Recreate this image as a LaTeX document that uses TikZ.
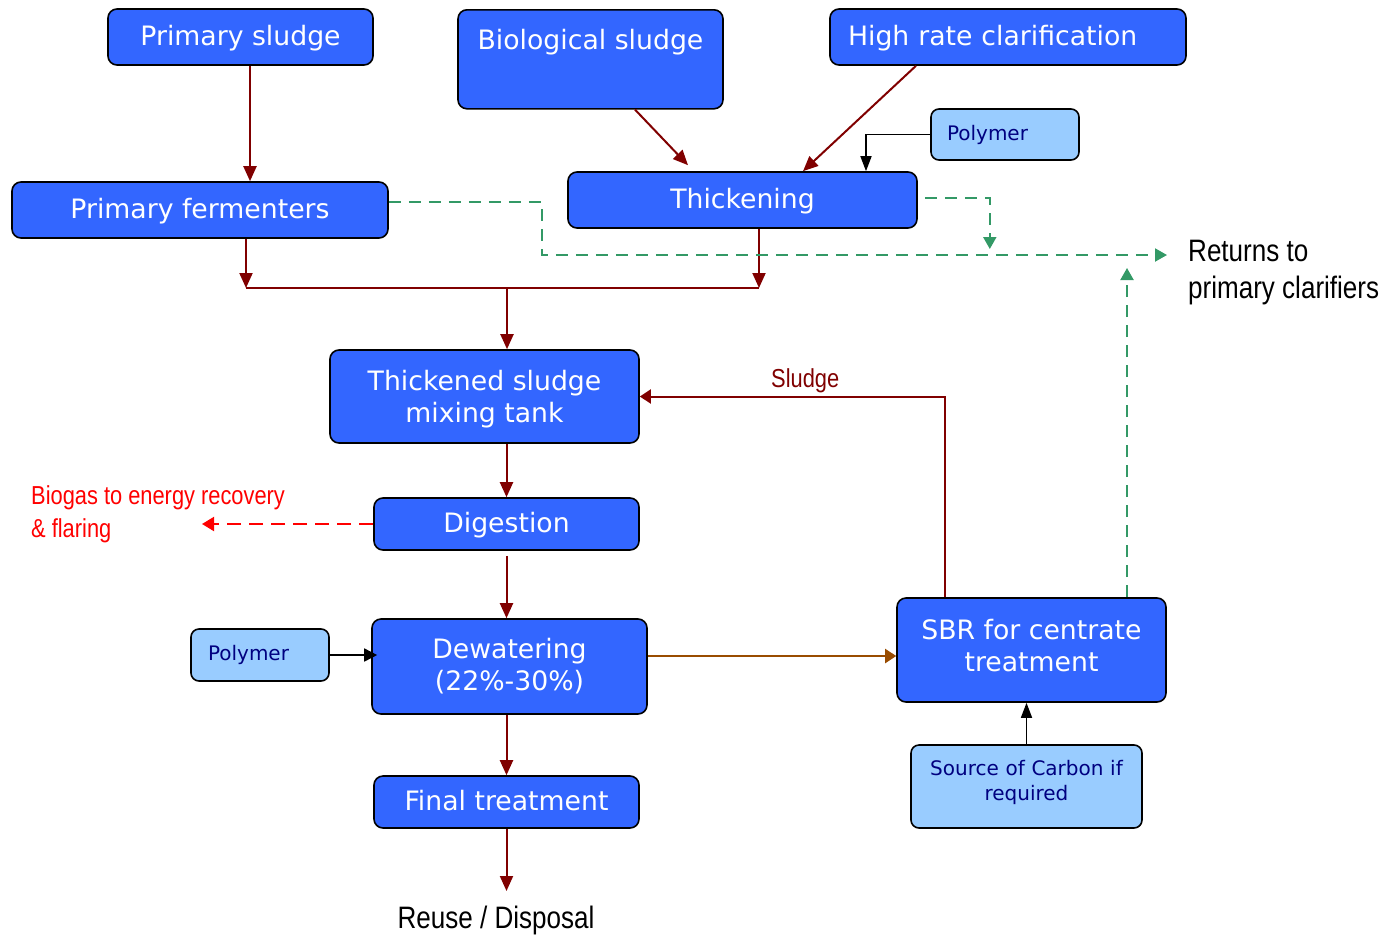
\documentclass[tikz,border=0pt]{standalone}
\usepackage{fontspec}
\setmainfont{DejaVu Sans}
\newfontfamily\narrowfont[FakeStretch=0.84]{Liberation Sans}
\usetikzlibrary{arrows.meta,positioning}
\definecolor{tankblue}{RGB}{51,102,255}
\definecolor{dosefill}{RGB}{153,204,255}
\definecolor{dosetext}{RGB}{0,0,128}
\definecolor{sludgered}{RGB}{128,0,0}
\definecolor{returngreen}{RGB}{51,153,102}
\definecolor{centratebrown}{RGB}{153,76,0}
\tikzstyle{tank} = [rectangle,rounded corners=9pt,draw=black,line width=1.6pt,fill=tankblue,text=white,inner sep=0pt,align=center,font=\fontsize{26.7}{32}\selectfont]
\tikzstyle{oneline} = [text height=21pt,text depth=4pt]
\tikzstyle{dose} = [rectangle,rounded corners=8pt,draw=black,line width=1.6pt,fill=dosefill,text=dosetext,inner ysep=0pt,align=left,font=\fontsize{20}{25}\selectfont]
\tikzstyle{note} = [inner sep=0pt,align=left,font=\narrowfont\fontsize{31}{37}\selectfont]
\tikzstyle{flow} = [->,draw=sludgered,line width=2pt]
\tikzstyle{back} = [-{Triangle[length=12pt,width=13pt]},draw=returngreen,line width=2pt,dash pattern=on 12pt off 8pt]
\tikzstyle{gas} = [-{Triangle[length=12pt,width=14pt]},draw=red,line width=2pt,dash pattern=on 14pt off 8pt]

\begin{document}
\begin{tikzpicture}[x=1pt,y=-1pt,>={Triangle[length=15pt,width=13pt]}]
	\useasboundingbox (0,0) rectangle (1391,937);
	\node[tank,oneline,minimum width=265pt,minimum height=56pt] (psl) at (240.5,37) {Primary sludge};
	\node[tank,minimum width=265pt,text height=39.5pt,text depth=59.5pt,anchor=north] (bsl) at (590.5,9) {Biological sludge};
	\node[tank,oneline,minimum height=56pt,text width=320pt,inner xsep=18pt,align=left] (hrc) at (1008,37) {High rate clarification};
	\node[dose,minimum height=51pt,text width=116pt,inner xsep=16pt] (pol1) at (1005,134.5) {Polymer};
	\node[tank,oneline,minimum width=376pt,minimum height=56pt] (pfe) at (200,210) {Primary fermenters};
	\node[tank,oneline,minimum width=349pt,minimum height=56pt] (thk) at (742.5,200) {Thickening};
	\node[tank,minimum width=309pt,minimum height=93pt] (mix) at (484.5,396.5) {\rule{0pt}{26pt}Thickened sludge\\mixing tank};
	\node[tank,oneline,minimum width=265pt,minimum height=52pt] (dig) at (506.5,524) {Digestion};
	\node[tank,minimum width=275pt,minimum height=95pt] (dew) at (509.5,666.5) {Dewatering\\(22\%-30\%)};
	\node[dose,minimum height=52pt,text width=104pt,inner xsep=17pt] (pol2) at (260,655) {Polymer};
	\node[tank,oneline,minimum width=265pt,minimum height=52pt] (fin) at (506.5,802) {Final treatment};
	\node[tank,minimum width=269pt,minimum height=104pt] (sbr) at (1031.5,650) {SBR for centrate\\treatment\rule[-10pt]{0pt}{10pt}};
	\node[dose,minimum height=83pt,text width=200pt,inner xsep=15.5pt,align=center] (crb) at (1026.5,786.5) {Source of Carbon if\\required\rule[-12pt]{0pt}{12pt}};

	\node[note,anchor=west] (ret) at (1188,273) {Returns to\\primary clarifiers};
	\node[note,anchor=west,text=red,font=\narrowfont\fontsize{26}{32.5}\selectfont] (bio) at (31,514.5) {Biogas to energy recovery\\\& flaring};
	\node[note,anchor=north] (reu) at (496,906) {Reuse / Disposal};
	\coordinate (mrg) at (507,288);
	\coordinate (rtn) at (1167,255);
	\coordinate (gsp) at (202,524);

	\draw[flow] ([xshift=9.5pt]psl.south) -- ([xshift=9.5pt]psl.south |- pfe.north);
	\draw[flow] ([xshift=44.5pt]bsl.south) -- ([xshift=-54.5pt,yshift=6pt]thk.north);
	\draw[flow] ([xshift=-92pt]hrc.south) -- ([xshift=60.5pt]thk.north);
	\draw[-{Triangle[length=15pt,width=11pt]},line width=1.6pt] (pol1.west) -| ([xshift=123.5pt]thk.north);
	\draw[flow] ([xshift=46pt]pfe.south) -- ([xshift=46pt]pfe.south |- mrg);
	\draw[flow] ([xshift=16.5pt]thk.south) -- ([xshift=16.5pt]thk.south |- mrg);
	\draw[draw=sludgered,line width=2pt] ([xshift=46pt]pfe.south |- mrg) -- ([xshift=16.5pt]thk.south |- mrg);
	\draw[flow] (mrg) -- (mrg |- mix.north);
	\draw[back] ([yshift=8pt]pfe.east) -- ++(153,0) |- (rtn);
	\draw[back] ([xshift=7pt,yshift=2pt]thk.east) -| ++(65,51);
	\draw[back,shorten >=13pt] ([xshift=95.5pt]sbr.north) -- ([xshift=95.5pt]sbr.north |- rtn);

	\draw[flow] (mix.south -| dig.north) -- (dig.north);
	\draw[gas] (dig.west) -- (gsp);
	\draw[flow,shorten <=5pt] (dig.south) -- (dig.south |- dew.north);
	\draw[-{Triangle[length=13pt,width=13pt]},line width=1.6pt,shorten >=-6pt] (pol2.east) -- (pol2.east -| dew.west);
	\draw[-{Triangle[length=11pt,width=14pt]},draw=centratebrown,line width=2pt] ([yshift=10.5pt]dew.east) -- ([yshift=10.5pt]dew.east -| sbr.west);
	\draw[flow] (fin.north |- dew.south) -- (fin.north);
	\draw[flow,shorten >=15pt] (fin.south) -- (fin.south |- reu.north);
	\draw[-{Triangle[length=11pt,width=14pt]},draw=sludgered,line width=2pt] ([xshift=-86.5pt]sbr.north) |- (mix.east) node[pos=0.729,above=3pt,note,text=sludgered,font=\narrowfont\fontsize{26}{32}\selectfont] {Sludge};
	\draw[-{Triangle[length=15pt,width=11pt]},line width=1.6pt] (crb.north) -- (crb.north |- sbr.south);
\end{tikzpicture}
\end{document}
